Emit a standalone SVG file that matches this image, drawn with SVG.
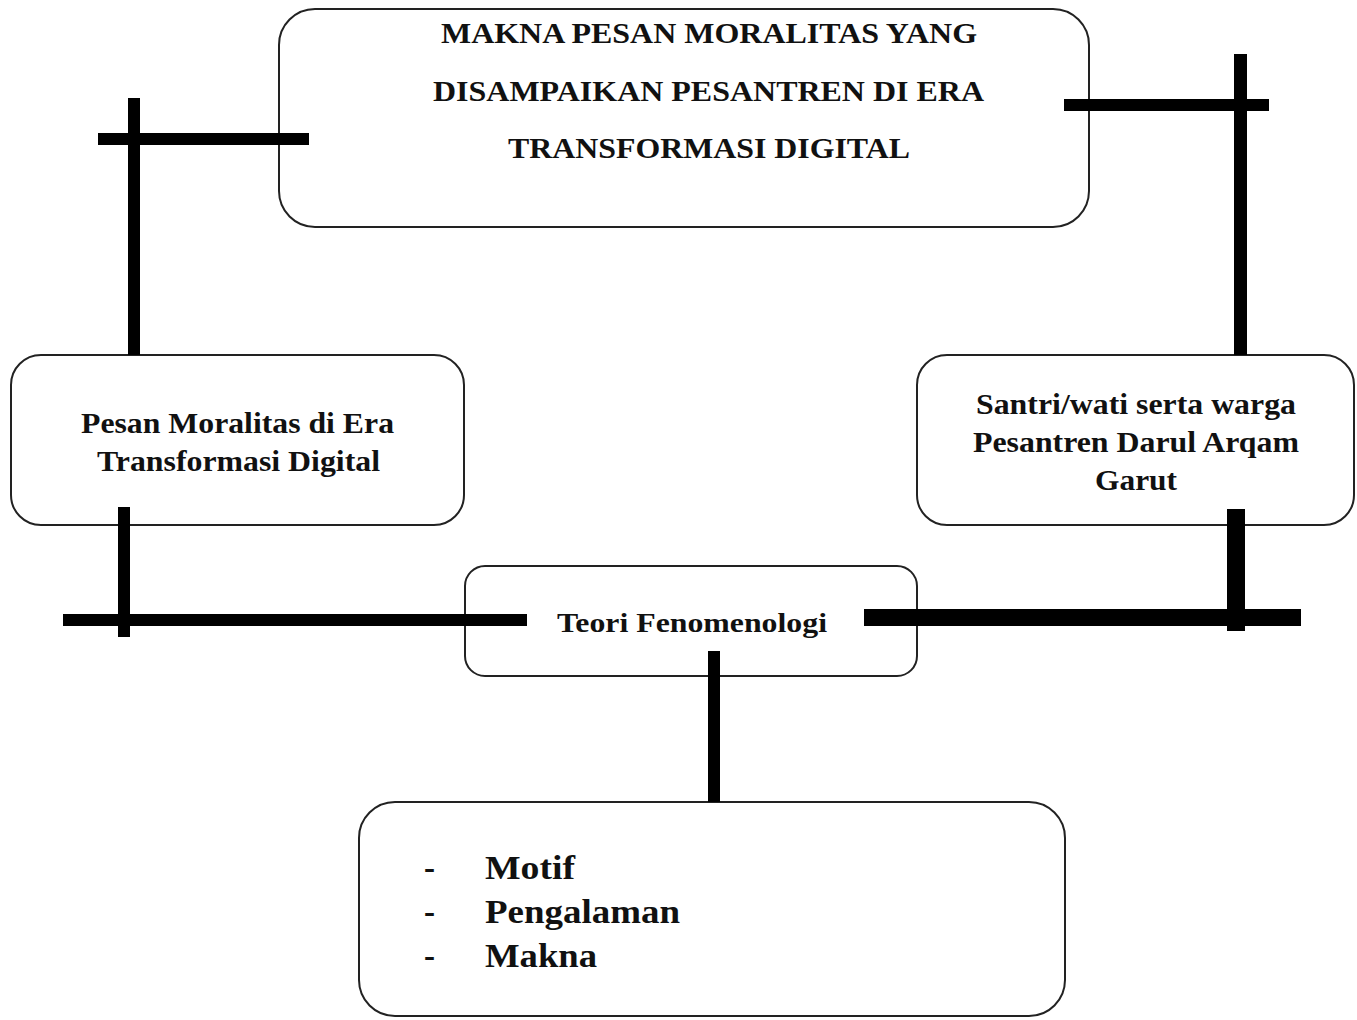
<svg xmlns="http://www.w3.org/2000/svg" width="1357" height="1020" viewBox="0 0 1357 1020">
<style>
.box{fill:#fff;stroke:#222;stroke-width:2}
.t{font-family:"Liberation Serif","Times New Roman",serif;font-weight:bold;fill:#111;text-anchor:middle}
.l{text-anchor:start}
.c{fill:#000}
</style>
<rect width="1357" height="1020" fill="#fff"/>
<g id="node-top">
<rect class="box" x="279" y="9" width="810" height="218" rx="36"/>
<text class="t" x="709" y="43" font-size="30" textLength="536" lengthAdjust="spacingAndGlyphs">MAKNA PESAN MORALITAS YANG</text>
<text class="t" x="708.5" y="101" font-size="30" textLength="551" lengthAdjust="spacingAndGlyphs">DISAMPAIKAN PESANTREN DI ERA</text>
<text class="t" x="709" y="158" font-size="30" textLength="402" lengthAdjust="spacingAndGlyphs">TRANSFORMASI DIGITAL</text>
</g>
<g id="node-left">
<rect class="box" x="11" y="355" width="453" height="170" rx="30"/>
<text class="t" x="237.5" y="433" font-size="30" textLength="313" lengthAdjust="spacingAndGlyphs">Pesan Moralitas di Era</text>
<text class="t" x="238.5" y="471" font-size="30" textLength="283" lengthAdjust="spacingAndGlyphs">Transformasi Digital</text>
</g>
<g id="node-right">
<rect class="box" x="917" y="355" width="437" height="170" rx="30"/>
<text class="t" x="1136" y="414" font-size="30" textLength="320" lengthAdjust="spacingAndGlyphs">Santri/wati serta warga</text>
<text class="t" x="1136" y="452" font-size="30" textLength="326" lengthAdjust="spacingAndGlyphs">Pesantren Darul Arqam</text>
<text class="t" x="1136" y="490" font-size="30" textLength="82" lengthAdjust="spacingAndGlyphs">Garut</text>
</g>
<g id="node-middle">
<rect class="box" x="465" y="566" width="452" height="110" rx="20"/>
<text class="t" x="692" y="632" font-size="27" textLength="270" lengthAdjust="spacingAndGlyphs">Teori Fenomenologi</text>
</g>
<g id="node-bottom">
<rect class="box" x="359" y="802" width="706" height="214" rx="36"/>
<text class="t l" x="424" y="879" font-size="33">-</text>
<text class="t l" x="485" y="879" font-size="33" textLength="90" lengthAdjust="spacingAndGlyphs">Motif</text>
<text class="t l" x="424" y="923" font-size="33">-</text>
<text class="t l" x="485" y="923" font-size="33" textLength="195" lengthAdjust="spacingAndGlyphs">Pengalaman</text>
<text class="t l" x="424" y="967" font-size="33">-</text>
<text class="t l" x="485" y="967" font-size="33" textLength="112" lengthAdjust="spacingAndGlyphs">Makna</text>
</g>
<g id="connectors">
<rect class="c" x="128" y="98" width="12" height="257"/>
<rect class="c" x="98" y="133" width="211" height="12"/>
<rect class="c" x="1234" y="54" width="13" height="301"/>
<rect class="c" x="1064" y="99" width="205" height="12"/>
<rect class="c" x="118" y="507" width="12" height="130"/>
<rect class="c" x="63" y="614" width="464" height="12"/>
<rect class="c" x="1227" y="509" width="18" height="122"/>
<rect class="c" x="864" y="609" width="437" height="17"/>
<rect class="c" x="708" y="651" width="12" height="151"/>
</g>
</svg>
